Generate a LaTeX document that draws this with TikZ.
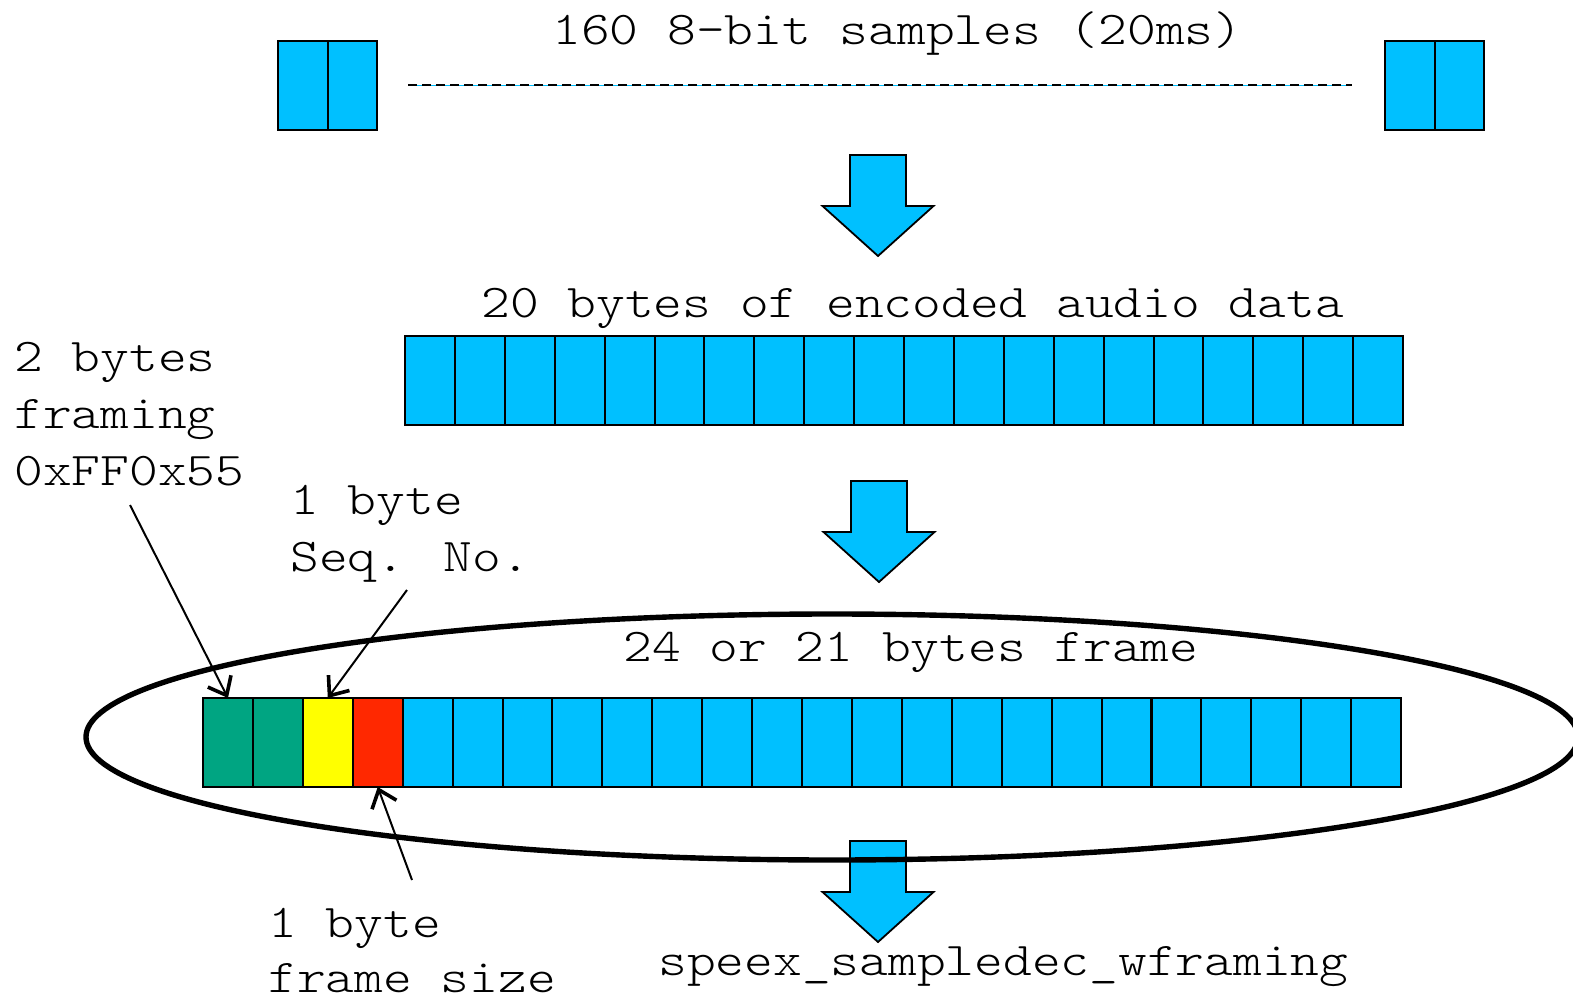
\documentclass[tikz,border=0pt]{standalone}
\usepackage{fontspec}
\newfontfamily\cour{lmmonolt10-regular.otf}[FakeStretch=1.165]
\usetikzlibrary{arrows.meta}
\definecolor{byteblue}{RGB}{0,192,255}
\definecolor{framegreen}{RGB}{0,165,130}
\definecolor{seqyellow}{RGB}{255,255,0}
\definecolor{sizered}{RGB}{255,40,0}
\tikzset{
  downarrow/.pic={
    \path[bigarrow] (-28,0) -- (-28,51) -- (-55.5,51) -- (0,101) -- (55.5,51)
      -- (28,51) -- (28,0) -- cycle;
  }
}
\begin{document}
\begin{tikzpicture}[x=0.5pt,y=-0.5pt,
  cell/.style={draw=black, line width=1pt, fill=byteblue,
    minimum width=24.95pt, minimum height=44.5pt, inner sep=0pt, outer sep=0pt},
  lbl/.style={font=\cour\fontsize{23.5pt}{28pt}\selectfont, inner sep=0pt,
    anchor=base west},
  conn/.style={line width=1pt,
    -{Straight Barb[length=8pt,width=13pt,line width=1.8pt]}},
  bigarrow/.style={draw=black, line width=0.9pt, fill=byteblue}]
\useasboundingbox (0,0) rectangle (1573,1000);
\clip (0,0) rectangle (1573,1000);

% the raw 8-bit samples: first and last two shown
\node[cell, minimum width=24.75pt] (s1) at (302.75,85.5) {};
\node[cell, minimum width=24.75pt] (s2) at (352.25,85.5) {};
\node[cell, minimum width=24.75pt] (s159) at (1409.75,85.5) {};
\node[cell, minimum width=24.75pt] (s160) at (1459.25,85.5) {};
\coordinate (dl) at (408,85);
\coordinate (dr) at (1352,85);
\draw[byteblue, line width=0.4pt] (dl) -- (dr);
\draw[line width=0.7pt, dash pattern=on 4.5pt off 2.5pt] (dl) -- (dr);
\node[lbl] (tSamples) at (552,45) {160 8-bit samples (20ms)};

% encoder step
\pic at (878,155) {downarrow};

% 20 encoded bytes
\foreach \i in {1,...,20}
  \node[cell] (e\i) at ({405+49.9*(\i-0.5)},380.5) {};
\node[lbl] (tEnc) at (481,317) {20 bytes of encoded audio data};

% framing step
\pic at (879,481) {downarrow};

% decoder step
\pic at (878,841) {downarrow};

% framed packet: 2 sync bytes, sequence number, frame size, payload
\foreach \i/\c in {1/framegreen,2/framegreen,3/seqyellow,4/sizered}
  \node[cell, fill=\c] (f\i) at ({203+49.92*(\i-0.5)},742.5) {};
\foreach \i in {5,...,24}
  \node[cell] (f\i) at ({203+49.92*(\i-0.5)},742.5) {};
\draw[line width=2.7pt] (832,737) ellipse [x radius=746, y radius=123];
\node[lbl] (tFrame) at (623,661) {24 or 21 bytes frame};

% field labels
\node[lbl] (tSync1) at (14,371) {2 bytes};
\node[lbl] (tSync2) at (14,428) {framing};
\node[lbl] (tSync3) at (14,485) {0xFF0x55};
\node[lbl] (tSeq1) at (290,514) {1 byte};
\node[lbl] (tSeq2) at (290,571) {Seq. No.};
\node[lbl] (tSize1) at (268,937) {1 byte};
\node[lbl] (tSize2) at (268,992) {frame size};
\node[lbl] (tDec) at (658,975) {speex\_sampledec\_wframing};

\coordinate (pSync) at (130,505);
\coordinate (pSeq) at (407,590);
\coordinate (pSize) at (412,880);
\draw[conn] (pSync) -- (f1.north);
\draw[conn] (pSeq) -- (f3.north);
\draw[conn] (pSize) -- (f4.south);
\end{tikzpicture}
\end{document}
